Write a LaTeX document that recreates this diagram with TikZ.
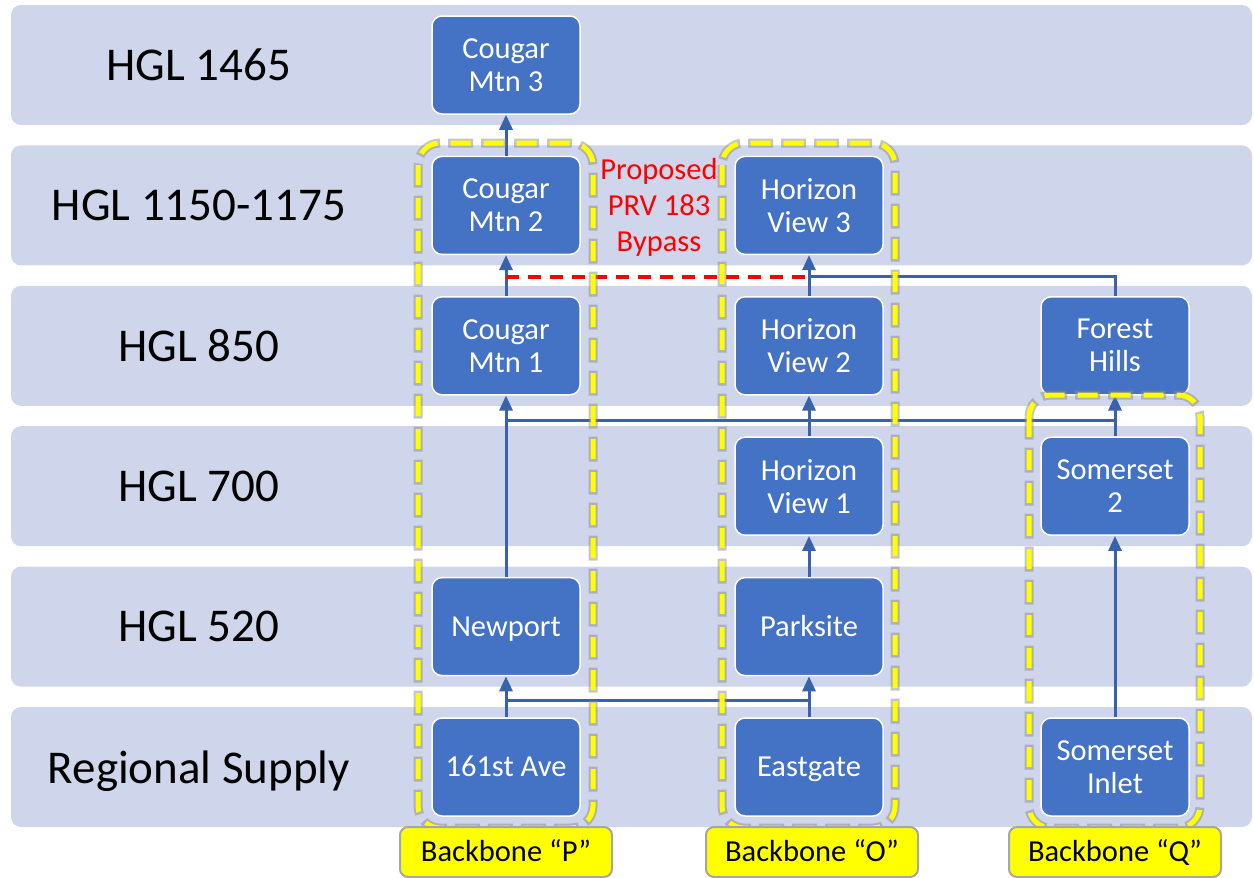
\documentclass[tikz,border=0pt]{standalone}
\usepackage{fontspec}
\setmainfont{Carlito}
\usetikzlibrary{arrows.meta,calc}
\definecolor{band}{HTML}{CFD5EA}
\definecolor{boxblue}{HTML}{4472C4}
\definecolor{conn}{RGB}{56,98,170}
\definecolor{ylw}{HTML}{FFFF00}
\newcommand{\mystrut}{\rule[-6.7pt]{0pt}{33pt}}
\begin{document}
\begin{tikzpicture}[x=1pt,y=-1pt,
  bandbox/.style={fill=band, rounded corners=10pt},
  stn/.style={draw=white, line width=1.5pt, fill=boxblue, rounded corners=10pt,
    minimum width=148pt, minimum height=98pt, text=white, align=center,
    font=\fontsize{30.5}{33}\selectfont, inner sep=0pt},
  oneline/.style={execute at begin node=\mystrut, execute at end node=\mystrut},
  lvl/.style={font=\fontsize{47}{56}\selectfont, text=black, text depth=0pt},
  wire/.style={draw=conn, line width=3pt},
  arr/.style={wire, -{Triangle[width=13pt,length=15pt]}},
  yd/.style={draw=ylw, line width=5pt, dash pattern=on 20pt off 13pt, rounded corners=22pt},
  ydg/.style={draw=black!45, opacity=0.5, line width=9pt, dash pattern=on 25pt off 8pt, dash phase=2.5pt, rounded corners=22pt},
  tag/.style={fill=ylw, draw=black!35, line width=2pt, rounded corners=8pt,
    minimum width=212pt, minimum height=50pt, inner sep=0pt,
    font=\fontsize{30.5}{33}\selectfont, text=black,
    execute at begin node=\mystrut},
  bypass/.style={draw=red, line width=3.5pt, dash pattern=on 13pt off 9pt}
]
\useasboundingbox (0,0) rectangle (1254,878);
% bands
\foreach \i in {0,...,5}{
  \pgfmathsetmacro{\yt}{5+140.4*\i}
  \pgfmathsetmacro{\yb}{125+140.4*\i}
  \fill[bandbox] (11,\yt) rectangle (1252,\yb);
}
% level labels
\node[lvl] (l0) at (199,65) {HGL 1465};
\node[lvl] (l1) at (199,205.4) {HGL 1150-1175};
\node[lvl] (l2) at (199,345.8) {HGL 850};
\node[lvl] (l3) at (199,486.2) {HGL 700};
\node[lvl] (l4) at (199,626.6) {HGL 520};
\node[lvl] (l5) at (199,767) {Regional Supply};
% stations
\node[stn] (c3) at (506,65) {Cougar\\Mtn 3};
\node[stn] (c2) at (506,205.4) {Cougar\\Mtn 2};
\node[stn] (c1) at (506,345.8) {Cougar\\Mtn 1};
\node[stn,oneline] (np) at (506,626.6) {Newport};
\node[stn,oneline] (ave) at (506,767) {161st Ave};
\node[stn] (h3) at (809,205.4) {Horizon\\View 3};
\node[stn] (h2) at (809,345.8) {Horizon\\View 2};
\node[stn] (h1) at (809,486.2) {Horizon\\View 1};
\node[stn,oneline] (ps) at (809,626.6) {Parksite};
\node[stn,oneline] (eg) at (809,767) {Eastgate};
\node[stn] (fh) at (1115,345.8) {Forest\\Hills};
\node[stn] (s2) at (1115,486.2) {Somerset\\2};
\node[stn] (si) at (1115,767) {Somerset\\Inlet};
% connectors
\draw[arr] (ave.north) -- (np.south);
\draw[arr] (eg.north) -- (ps.south);
\coordinate (j520) at ($(ave.north)!0.4!(np.south)$);
\draw[wire] (j520) -- (eg.north |- j520);
\draw[arr] (np.north) -- (c1.south);
\draw[arr] (ps.north) -- (h1.south);
\draw[arr] (h1.north) -- (h2.south);
\draw[arr] (si.north) -- (s2.south);
\draw[arr] (s2.north) -- (fh.south);
\coordinate (j850) at ($(h1.north)!0.4!(h2.south)$);
\draw[wire] (c1.south |- j850) -- (fh.south |- j850);
\draw[arr] (c1.north) -- (c2.south);
\draw[arr] (h2.north) -- (h3.south);
\coordinate (j1150) at ($(h2.north)!0.47!(h3.south)$);
\draw[wire] (h3.south |- j1150) -| (fh.north);
\draw[bypass] (c2.south |- j1150) -- (h3.south |- j1150);
\draw[arr] (c2.north) -- (c3.south);
% bypass label
\node[text=red, align=center, font=\fontsize{30.5}{36}\selectfont] (prv) at (659,207) {Proposed\\PRV 183\\Bypass};
% backbone outlines
\foreach \xa/\ya/\xb/\yb in {418/143/593/828, 722/143/895/828, 1029/395/1200/828}{
  \draw[ydg] (\xa,\ya) rectangle (\xb,\yb);
  \draw[yd] (\xa,\ya) rectangle (\xb,\yb);
}
% backbone tags
\node[tag] (bp) at (506,852) {Backbone “P”};
\node[tag] (bo) at (812,852) {Backbone “O”};
\node[tag] (bq) at (1115,852) {Backbone “Q”};
\end{tikzpicture}
\end{document}
